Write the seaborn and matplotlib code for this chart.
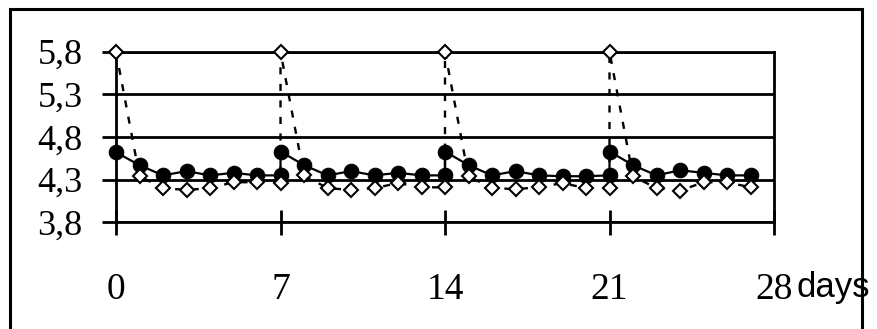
import matplotlib
matplotlib.use("Agg")
import matplotlib.pyplot as plt
import seaborn as sns
from matplotlib.patches import Rectangle

# Daily pH readings; each weekly day (7, 14, 21) carries the value before and after renewal
days_filled = [0, 1, 2, 3, 4, 5, 6, 7,
               7, 8, 9, 10, 11, 12, 13, 14,
               14, 15, 16, 17, 18, 19, 20, 21,
               21, 22, 23, 24, 25, 26, 27]
ph_filled = [4.62, 4.47, 4.35, 4.40, 4.35, 4.38, 4.35, 4.35,
             4.63, 4.47, 4.35, 4.40, 4.35, 4.38, 4.35, 4.35,
             4.63, 4.47, 4.35, 4.40, 4.35, 4.34, 4.34, 4.35,
             4.63, 4.47, 4.35, 4.41, 4.38, 4.35, 4.35]

days_open = [0, 1, 2, 3, 4, 5, 6, 7,
             7, 8, 9, 10, 11, 12, 13, 14,
             14, 15, 16, 17, 18, 19, 20, 21,
             21, 22, 23, 24, 25, 26, 27]
ph_open = [5.80, 4.34, 4.20, 4.18, 4.20, 4.27, 4.27, 4.26,
           5.80, 4.35, 4.20, 4.18, 4.20, 4.26, 4.21, 4.21,
           5.80, 4.34, 4.20, 4.19, 4.21, 4.26, 4.20, 4.20,
           5.80, 4.34, 4.20, 4.17, 4.27, 4.27, 4.21]

x_ticks = [0, 7, 14, 21, 28]
y_ticks = [3.8, 4.3, 4.8, 5.3, 5.8]
y_tick_labels = ["3,8", "4,3", "4,8", "5,3", "5,8"]
x_unit = "days"

sns.set_style("white")
plt.rcParams["font.family"] = ["Liberation Serif", "DejaVu Serif"]

W, H = 877, 329
fig = plt.figure(figsize=(W / 100, H / 100), dpi=100)
left_px, right_px, top_px, bottom_px = 116, 774, 51.7, 222.3
ax = fig.add_axes([left_px / W, 1 - bottom_px / H,
                   (right_px - left_px) / W, (bottom_px - top_px) / H])
ax.set_facecolor("white")

sns.lineplot(x=days_filled, y=ph_filled, sort=False, estimator=None, ax=ax,
             color="black", lw=1.6, marker="o", ms=10.5, mec="black", mfc="black",
             clip_on=False, zorder=3)
sns.lineplot(x=days_open, y=ph_open, sort=False, estimator=None, ax=ax,
             color="black", lw=1.7, linestyle=(0, (3, 4)), marker="D", ms=7,
             mec="black", mfc="white", mew=1.5, clip_on=False, zorder=4)

ax.set_xlim(0, 28)
ax.set_ylim(3.8, 5.8)
ax.set_xticks(x_ticks)
ax.set_xticklabels([str(t) for t in x_ticks])
ax.set_yticks(y_ticks)
ax.set_yticklabels(y_tick_labels)
ax.set_xlabel("")
ax.set_ylabel("")

ax.yaxis.grid(True, color="black", lw=2)
ax.xaxis.grid(False)
ax.set_axisbelow(True)
for side in ["left", "right", "bottom", "top"]:
    ax.spines[side].set_visible(True)
    ax.spines[side].set_color("black")
    ax.spines[side].set_linewidth(2)

ax.tick_params(axis="x", direction="inout", length=18, width=2, pad=27,
               labelsize=27, color="black", labelcolor="black", bottom=True)
ax.tick_params(axis="y", direction="out", length=10, width=2, pad=14,
               labelsize=26, color="black", labelcolor="black", left=True)

fig.text(796.7 / W, (H - 296.7) / H, x_unit, family=["Liberation Sans", "DejaVu Sans"],
         fontsize=25, va="baseline", ha="left", color="black")

# Outer frame around the whole chart
fig.add_artist(Rectangle((10 / W, -0.1), (862 - 10) / W, 1.1 - 9.3 / H,
                         transform=fig.transFigure, fill=False, ec="black", lw=2.2))

fig.savefig("out.png", dpi=100)
